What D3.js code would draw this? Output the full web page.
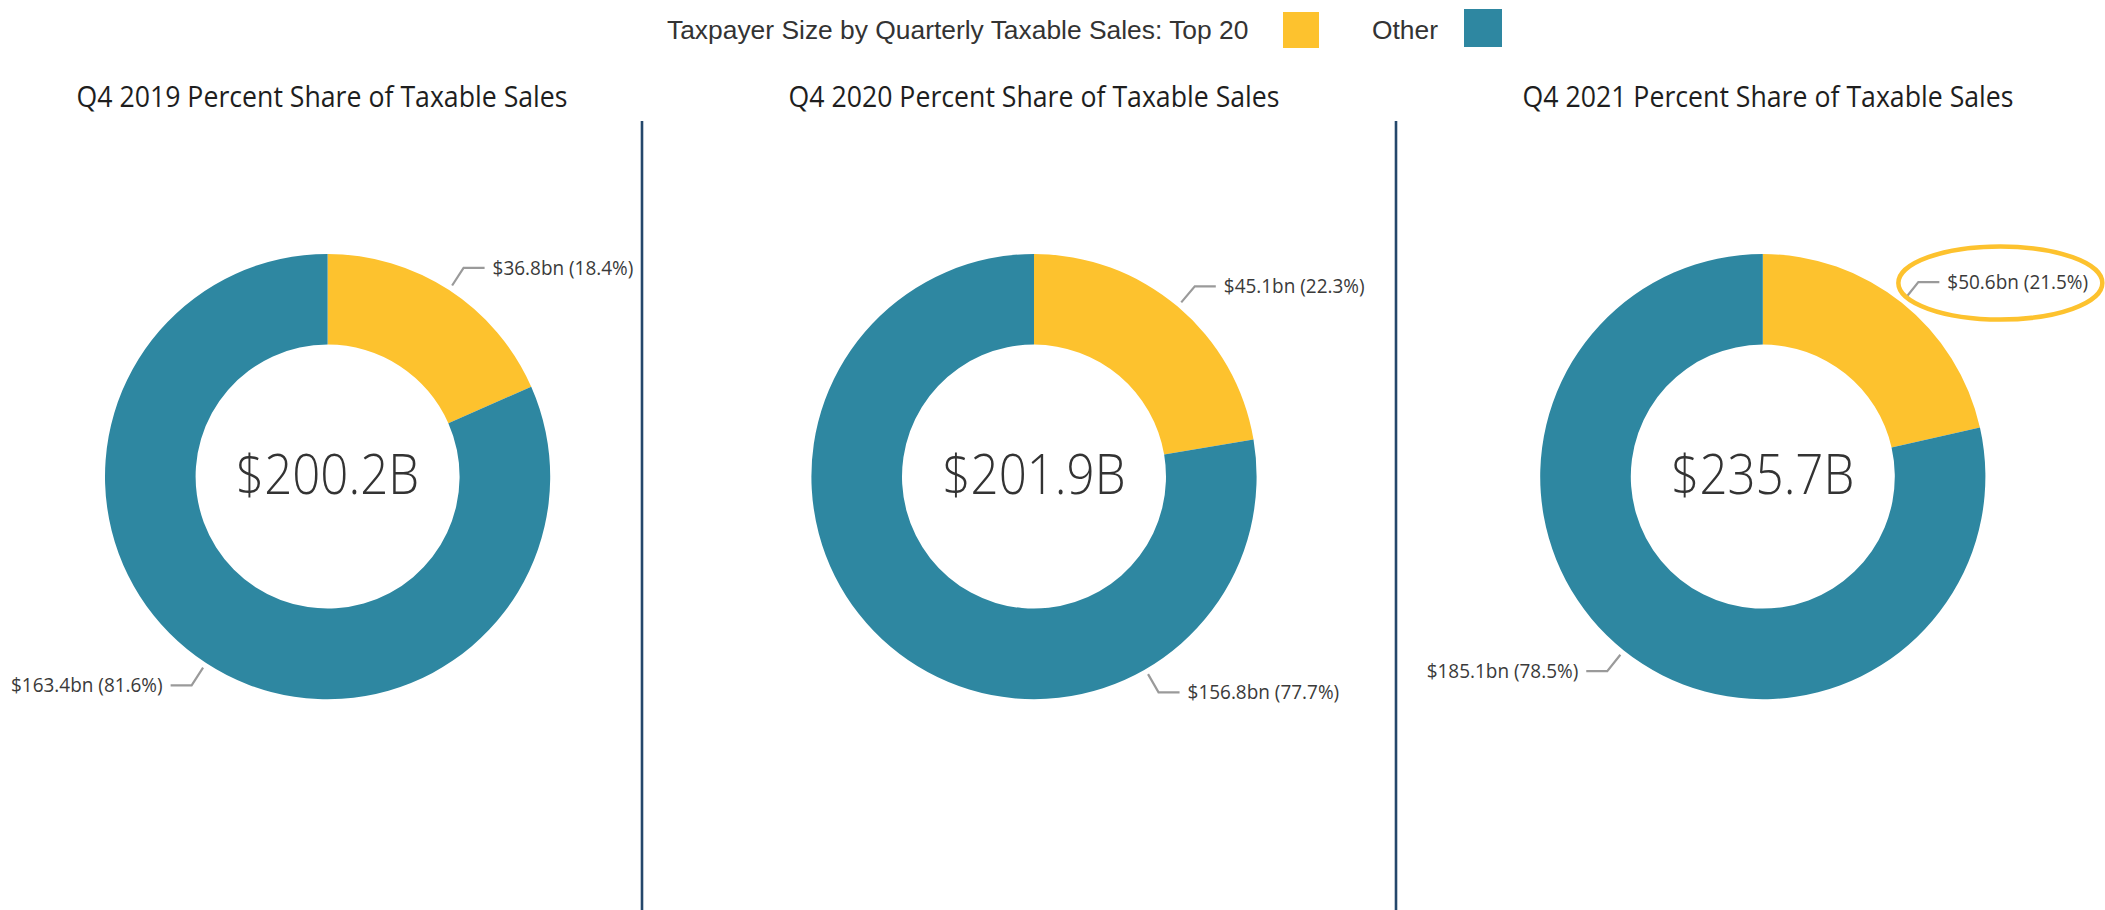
<!DOCTYPE html>
<html>
<head>
<meta charset="utf-8">
<script src="https://cdn.jsdelivr.net/npm/d3@7"></script>
<style>
  html, body { margin: 0; padding: 0; background: #ffffff; }
  svg { display: block; }
</style>
</head>
<body>
<svg id="chart" width="2105" height="910"></svg>
<script>
// ---------------- data ----------------
const periods     = ["Q4 2019", "Q4 2020", "Q4 2021"];
const categories  = ["Top 20", "Other"];
const top20Sales  = [36.8, 45.1, 50.6];      // $bn
const otherSales  = [163.4, 156.8, 185.1];   // $bn
const top20Pct    = [18.4, 22.3, 21.5];
const otherPct    = [81.6, 77.7, 78.5];
const totalSales  = ["$200.2B", "$201.9B", "$235.7B"];
const legendTitle = "Taxpayer Size by Quarterly Taxable Sales:";
const highlighted = { period: "Q4 2021", category: "Top 20" };

// ---------------- layout / style ----------------
const W = 2105, H = 910;
const colors = { "Top 20": "#FDC22E", "Other": "#2E87A1" };
const pieCentersX = [327.6, 1034, 1762.8];
const titleCentersX = [322, 1034, 1768];
const pieCY = 476.6;
const outerR = 222.6, innerR = 132;
const dividersX = [642, 1396];
// label angle overrides (degrees clockwise from 12 o'clock) where the renderer moved a label
const labelAngleOverride = { "Q4 2020|Other": 150 };

const svg = d3.select("#chart");
const color = d3.scaleOrdinal().domain(categories).range(categories.map(c => colors[c]));

function condense(sel, factor) {
  sel.each(function () {
    const w = this.getComputedTextLength();
    this.setAttribute("textLength", w * factor);
    this.setAttribute("lengthAdjust", "spacingAndGlyphs");
  });
}

// ---------------- legend ----------------
const legend = svg.append("g").attr("font-family", "'Liberation Sans', Arial, sans-serif")
  .attr("font-size", 26.4).attr("fill", "#333333");
legend.append("text").attr("x", 667).attr("y", 39).text(legendTitle + " " + categories[0]);
legend.append("rect").attr("x", 1283).attr("y", 12).attr("width", 36).attr("height", 36).attr("fill", color("Top 20"));
legend.append("text").attr("x", 1372).attr("y", 39).text(categories[1]);
legend.append("rect").attr("x", 1464).attr("y", 9).attr("width", 38).attr("height", 38).attr("fill", color("Other"));

// ---------------- dividers ----------------
svg.selectAll("line.divider").data(dividersX).join("line")
  .attr("class", "divider")
  .attr("x1", d => d).attr("x2", d => d)
  .attr("y1", 121).attr("y2", H)
  .attr("stroke", "#24476B").attr("stroke-width", 2.6);

// ---------------- titles ----------------
const titles = svg.selectAll("text.title").data(periods).join("text")
  .attr("class", "title")
  .attr("x", (d, i) => titleCentersX[i]).attr("y", 107)
  .attr("text-anchor", "middle")
  .attr("font-family", "'Open Sans', 'Noto Sans', sans-serif")
  .attr("font-size", 28.5).attr("fill", "#1e1e1e")
  .text(d => d + " Percent Share of Taxable Sales");
{
  const nat = titles.node().getComputedTextLength();
  condense(titles, 491 / nat);
}

// ---------------- donuts ----------------
const pie = d3.pie().sort(null).value(d => d.value);
const arc = d3.arc().innerRadius(innerR).outerRadius(outerR);
const deg = Math.PI / 180;
const allLabels = [];

periods.forEach((p, i) => {
  const data = [
    { cat: "Top 20", value: top20Sales[i], pct: top20Pct[i] },
    { cat: "Other",  value: otherSales[i], pct: otherPct[i] }
  ];
  const g = svg.append("g").attr("transform", `translate(${pieCentersX[i]},${pieCY})`);
  const arcs = pie(data);
  g.selectAll("path").data(arcs).join("path")
    .attr("d", arc).attr("fill", d => color(d.data.cat));

  // centre total
  const ct = g.append("text").attr("class", "center")
    .attr("x", 0).attr("y", 17)
    .attr("text-anchor", "middle")
    .attr("font-family", "'Open Sans', 'Noto Sans', sans-serif")
    .attr("font-weight", 300)
    .attr("font-size", 56).attr("fill", "#333333")
    .text(totalSales[i]);
  allLabels.push({ kind: "center", node: ct });

  // outside labels with leader lines
  arcs.forEach(a => {
    const key = p + "|" + a.data.cat;
    const ang = labelAngleOverride[key] !== undefined ? labelAngleOverride[key] * deg : (a.startAngle + a.endAngle) / 2;
    const sx = Math.sin(ang), sy = -Math.cos(ang);
    const r0 = outerR + 5.5, r1 = outerR + 26.5;
    const x0 = r0 * sx, y0 = r0 * sy, x1 = r1 * sx, y1 = r1 * sy;
    const right = sx >= 0;
    const x2 = x1 + (right ? 21 : -21);
    g.append("path")
      .attr("d", `M${x0},${y0}L${x1},${y1}L${x2},${y1}`)
      .attr("fill", "none").attr("stroke", "#9a9a9a").attr("stroke-width", 2.2);
    const t = g.append("text")
      .attr("x", x2 + (right ? 8 : -8)).attr("y", y1)
      .attr("dy", "0.36em")
      .attr("text-anchor", right ? "start" : "end")
      .attr("font-family", "'Open Sans', 'Noto Sans', sans-serif")
      .attr("font-size", 19.5).attr("fill", "#3a3a3a")
      .text(`$${a.data.value.toFixed(1)}bn (${a.data.pct.toFixed(1)}%)`);
    allLabels.push({ kind: "label", node: t });

    if (p === highlighted.period && a.data.cat === highlighted.category) {
      g.append("ellipse")
        .attr("cx", x2 + 61).attr("cy", y1 + 1)
        .attr("rx", 102).attr("ry", 36.5)
        .attr("fill", "none").attr("stroke", colors["Top 20"]).attr("stroke-width", 4.5);
    }
  });
});

// condense label fonts to match the narrower original face
{
  const lab = allLabels.filter(d => d.kind === "label");
  const ref = lab[1].node.node().getComputedTextLength(); // "$163.4bn (81.6%)"
  const f = 151.6 / ref;
  lab.forEach(d => condense(d.node, f));
  const cen = allLabels.filter(d => d.kind === "center");
  const cref = cen[0].node.node().getComputedTextLength();
  const cf = 183 / cref;
  cen.forEach(d => condense(d.node, cf));
}
</script>
</body>
</html>
